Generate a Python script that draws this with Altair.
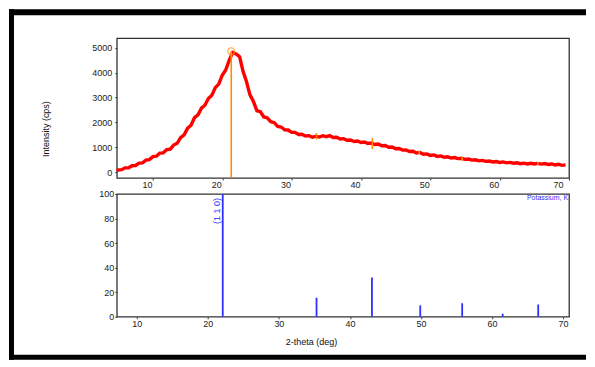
import altair as alt
import numpy as np
import pandas as pd

# ---------------- data ----------------
# measured pattern (upper panel), 2-theta grid 5.0 .. 69.5 step 0.5 (plus start point 4.8)
two_theta = [4.8] + [round(v, 2) for v in np.arange(5.0, 70.0, 0.5)]
intensity = [55,
    85, 95, 170, 175, 255, 265, 360, 370, 480, 500,
    620, 640, 760, 775, 905, 925, 1085, 1160, 1390, 1500,
    1760, 1890, 2190, 2300, 2575, 2690, 2965, 3090, 3400, 3540,
    3900, 4110, 4500, 4820, 4760, 4650, 4060, 3640, 3110, 2840,
    2470, 2430, 2220, 2180, 2030, 1990, 1840, 1815, 1705, 1695,
    1600, 1600, 1515, 1525, 1450, 1465, 1400, 1445, 1410, 1465,
    1425, 1465, 1390, 1400, 1330, 1345, 1280, 1290, 1230, 1250,
    1190, 1210, 1150, 1170, 1110, 1130, 1060, 1070, 1000, 1010,
    940, 950, 885, 890, 830, 840, 770, 790, 720, 730,
    670, 690, 630, 650, 595, 615, 565, 585, 540, 555,
    510, 525, 480, 495, 450, 470, 430, 445, 405, 425,
    385, 410, 370, 390, 355, 375, 335, 360, 325, 355,
    325, 350, 320, 345, 305, 325, 285, 310, 270, 290]

# matched-peak markers drawn on the measured pattern
main_peak_pos = [21.3]
main_peak_top = [4870]
mark_pos = [33.6, 41.65, 48.4, 54.6, 65.5]
mark_center = [1440, 1150, 790, 540, 340]
mark_half = [120, 220, 70, 70, 60]

# reference pattern (lower panel): Potassium, K
ref_pos = [22.1, 35.3, 43.1, 49.9, 55.8, 61.5, 66.5]
ref_int = [100, 15.5, 32, 9.3, 11, 2.5, 10]

x_ticks = [10, 20, 30, 40, 50, 60, 70]
y_ticks_top = [0, 1000, 2000, 3000, 4000, 5000]
y_ticks_bot = [0, 20, 40, 60, 80, 100]

FONT = "Liberation Sans"
W = 453

curve = pd.DataFrame({"t": two_theta, "i": intensity})
main_df = pd.DataFrame({"t": main_peak_pos, "top": main_peak_top, "bot": [-240]})
marks_df = pd.DataFrame({"t": mark_pos,
                         "lo": [c - h for c, h in zip(mark_center, mark_half)],
                         "hi": [c + h for c, h in zip(mark_center, mark_half)]})
ref_df = pd.DataFrame({"t": ref_pos, "v": ref_int, "z": [0] * len(ref_pos)})
one = pd.DataFrame({"a": [0]})

xs_top = alt.Scale(domain=[4.8, 70.0], nice=False, zero=False)
ys_top = alt.Scale(domain=[-240, 5390], nice=False, zero=False)
xs_bot = alt.Scale(domain=[7.19, 70.84], nice=False, zero=False)
ys_bot = alt.Scale(domain=[0, 100], nice=False)

ax_top_x = alt.Axis(values=x_ticks, title=None, labelOffset=-6, labelPadding=1, format="d",
                    labelOverlap=False)
ax_top_y = alt.Axis(values=y_ticks_top, title=None, labelPadding=3, format="d",
                    labelOverlap=False)
ax_bot_x = alt.Axis(values=x_ticks, title=None, labelPadding=1, format="d", labelOverlap=False)
ax_bot_y = alt.Axis(values=y_ticks_bot, title=None, labelPadding=1, format="d",
                    labelOverlap=False)


def tx(field):
    return alt.X(field, type="quantitative", scale=xs_top, axis=ax_top_x)


def ty(field):
    return alt.Y(field, type="quantitative", scale=ys_top, axis=ax_top_y)


line = alt.Chart(curve).mark_line(color="#ff0000", strokeWidth=3.4).encode(
    x=tx("t"), y=ty("i"))
main_rule = alt.Chart(main_df).mark_rule(color="#ff8c00", strokeWidth=1.6).encode(
    x=tx("t"), y=ty("bot"), y2="top:Q")
main_pt = alt.Chart(main_df).mark_point(shape="circle", filled=False, color="#ff9a1a",
                                        size=45, strokeWidth=1.2).encode(x=tx("t"), y=ty("top"))
small = alt.Chart(marks_df).mark_rule(color="#ff8c00", strokeWidth=1.6).encode(
    x=tx("t"), y=ty("lo"), y2="hi:Q")
ytitle = alt.Chart(one).mark_text(text="Intensity (cps)", angle=270, font=FONT, fontSize=9,
                                  color="#111", baseline="middle", align="center").encode(
    x=alt.value(-71), y=alt.value(91))


def bar(x1, x2, y1, y2):
    return alt.Chart(one).mark_rect(color="#000000", strokeWidth=0).encode(
        x=alt.value(x1), x2=alt.value(x2), y=alt.value(y1), y2=alt.value(y2))


frame = [bar(-108, 470, -29, -23), bar(-108, -103, -29, 322), bar(-108, 470, 317, 322)]

view_style = alt.ViewBackground(stroke="#333333", strokeWidth=1.3)

top = alt.layer(*frame, line, main_rule, small, main_pt, ytitle).properties(
    width=W, height=140, view=view_style)

bars = alt.Chart(ref_df).mark_rule(color="#2f2fff", strokeWidth=1.8).encode(
    x=alt.X("t:Q", scale=xs_bot, axis=ax_bot_x),
    y=alt.Y("z:Q", scale=ys_bot, axis=ax_bot_y),
    y2="v:Q",
)
hkl = alt.Chart(one).mark_text(text="(1 1 0)", angle=270, font=FONT, fontSize=9,
                               color="#3030ff", baseline="middle", align="center").encode(
    x=alt.value(100), y=alt.value(17))
pot = alt.Chart(one).mark_text(text="Potassium, K", font=FONT, fontSize=7,
                               color="#3030ff", baseline="middle", align="right").encode(
    x=alt.value(452), y=alt.value(4))
xtitle = alt.Chart(one).mark_text(text="2-theta (deg)", font=FONT, fontSize=9,
                                  color="#111", baseline="middle", align="center").encode(
    x=alt.value(195), y=alt.value(148))

bottom = alt.layer(bars, hkl, pot, xtitle).properties(width=W, height=123, view=view_style)

chart = alt.vconcat(top, bottom, spacing=16, bounds="flush", padding=0).configure_view(
    stroke="transparent"
).configure_axis(
    domain=False, grid=False, tickColor="#333333", tickSize=2, tickWidth=1,
    labelFont=FONT, labelFontSize=9, labelColor="#222222", labelOverlap=False
)

chart.save("out.html", embed_options={"renderer": "svg", "actions": False})
